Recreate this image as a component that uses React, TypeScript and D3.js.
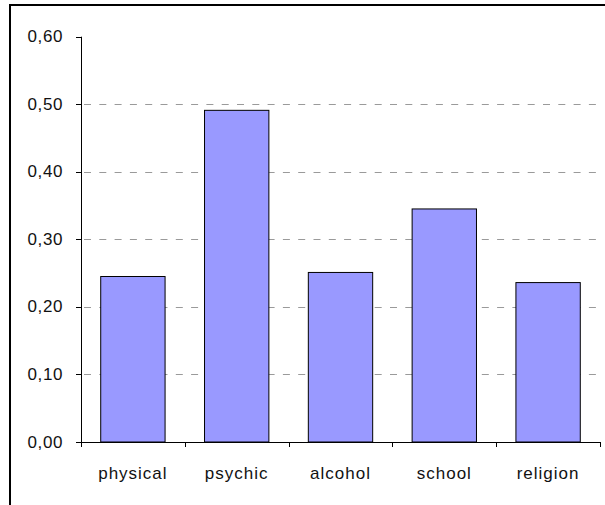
import React from "react";
import * as d3 from "d3";

const categories = ["physical", "psychic", "alcohol", "school", "religion"];
const values = [0.245, 0.491, 0.251, 0.345, 0.236];
const yTicks = [0, 0.1, 0.2, 0.3, 0.4, 0.5, 0.6];
const gridTicks = [0.1, 0.2, 0.3, 0.4, 0.5];

const W = 605;
const H = 505;
const plot = { left: 81, right: 600, top: 36.7, bottom: 442 };
const FONT = "'Liberation Sans', Arial, sans-serif";

export default function App() {
  const x = d3
    .scaleBand<string>()
    .domain(categories)
    .range([plot.left, plot.right])
    .paddingInner(0.38)
    .paddingOuter(0.19);
  const y = d3.scaleLinear().domain([0, 0.6]).range([plot.bottom, plot.top]);
  const fmt = (v: number) => d3.format(".2f")(v).replace(".", ",");
  const step = (plot.right - plot.left) / categories.length;

  return (
    <svg
      width={W}
      height={H}
      style={{ position: "fixed", left: 0, top: 0, background: "#fff", display: "block" }}
    >
      <rect x={0} y={0} width={W} height={H} fill="#fff" />
      {/* chart frame (top and left edges) */}
      <rect x={9} y={4} width={2} height={H} fill="#000" />
      <rect x={9} y={4} width={W} height={2} fill="#000" />

      {/* gridlines */}
      {gridTicks.map((t) => (
        <line
          key={"g" + t}
          x1={plot.left}
          x2={plot.right}
          y1={Math.round(y(t)) + 0.5}
          y2={Math.round(y(t)) + 0.5}
          stroke="#9a9a9a"
          strokeWidth={1}
          strokeDasharray="7 8.3"
          strokeDashoffset={-3}
        />
      ))}

      {/* bars */}
      {categories.map((c, i) => (
        <rect
          key={c}
          x={x(c)!}
          y={y(values[i])}
          width={x.bandwidth()}
          height={plot.bottom - y(values[i])}
          fill="#9999FF"
          stroke="#000"
          strokeWidth={1}
        />
      ))}

      {/* y axis */}
      <line x1={plot.left + 0.5} x2={plot.left + 0.5} y1={plot.top} y2={plot.bottom + 5} stroke="#000" />
      {yTicks.map((t) => (
        <g key={"y" + t}>
          <line
            x1={plot.left - 5}
            x2={plot.left}
            y1={Math.round(y(t)) + 0.5}
            y2={Math.round(y(t)) + 0.5}
            stroke="#000"
          />
          <text
            x={63}
            y={y(t) + 5.5}
            textAnchor="end"
            fontFamily={FONT}
            fontSize={17}
            fontWeight={400}
            letterSpacing={0.6}
            fill="#111"
          >
            {fmt(t)}
          </text>
        </g>
      ))}

      {/* x axis */}
      <line x1={plot.left} x2={plot.right} y1={plot.bottom + 0.5} y2={plot.bottom + 0.5} stroke="#000" />
      {d3.range(categories.length + 1).map((i) => (
        <line
          key={"xt" + i}
          x1={Math.round(plot.left + i * step) + 0.5}
          x2={Math.round(plot.left + i * step) + 0.5}
          y1={plot.bottom}
          y2={plot.bottom + 5}
          stroke="#000"
        />
      ))}
      {categories.map((c) => (
        <text
          key={"xl" + c}
          x={x(c)! + x.bandwidth() / 2}
          y={479}
          textAnchor="middle"
          fontFamily={FONT}
          fontSize={17}
          fontWeight={400}
          letterSpacing={1}
          fill="#111"
        >
          {c}
        </text>
      ))}
    </svg>
  );
}
